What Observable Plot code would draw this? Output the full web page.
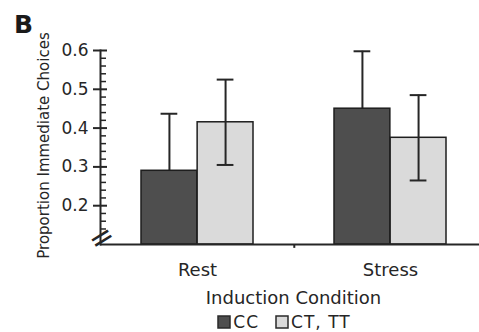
<!DOCTYPE html>
<html><head><meta charset="utf-8">
<script src="https://cdn.jsdelivr.net/npm/d3@7"></script>
<script src="https://cdn.jsdelivr.net/npm/@observablehq/plot@0.6"></script>
<style>
body{margin:0;background:#fff;font-family:"DejaVu Sans",sans-serif;}
#wrap{position:relative;width:479px;height:332px;overflow:hidden;background:#fff;}
#panel{position:absolute;left:14px;top:12px;font:bold 25px/1 "DejaVu Sans",sans-serif;color:#1a1a1a;}
#chart{position:absolute;left:0;top:0;}
#legend{position:absolute;left:100px;top:314px;width:386px;display:flex;justify-content:center;letter-spacing:1px;line-height:16px;}
#legend div{min-height:0 !important;margin:0 !important;line-height:16px !important;}
#legend svg{margin-right:3px !important;}
#legend svg rect{stroke:#2a2a2a;stroke-width:1.5px;}
</style></head><body>
<div id="wrap"><div id="chart"></div><div id="panel">B</div><div id="legend"></div></div>
<script>
// ---- data ----
const conditions = ["Rest", "Stress"];
const genotypes = ["CC", "CT, TT"];
const ccMean = [0.29, 0.45];
const ccErr = [0.147, 0.148];
const ctMean = [0.415, 0.375];
const ctErr = [0.11, 0.11];
const yMajorTicks = [0.2, 0.3, 0.4, 0.5, 0.6];
const yMinorTicks = [0.14, 0.16, 0.18, 0.22, 0.24, 0.26, 0.28, 0.32, 0.34, 0.36, 0.38,
                     0.42, 0.44, 0.46, 0.48, 0.52, 0.54, 0.56, 0.58];
const yDomain = [0.1, 0.6];
const breakAt = [0.117];
const yLabel = "Proportion Immediate Choices";
const xLabel = "Induction Condition";
const colors = ["#4e4e4e", "#dadada"];

// ---- tables ----
const cc = conditions.map((c, i) => ({condition: c, mean: ccMean[i], lo: ccMean[i] - ccErr[i], hi: ccMean[i] + ccErr[i]}));
const ct = conditions.map((c, i) => ({condition: c, mean: ctMean[i], lo: ctMean[i] - ctErr[i], hi: ctMean[i] + ctErr[i]}));

// ---- layout ----
const W = 479, H = 310, mL = 100, mR = -7, mT = 50, mB = 66;
const pIn = 0.42, pOut = 0.207;
const step = (W - mL - mR) / (conditions.length - pIn + 2 * pOut);
const bw = step * (1 - pIn);
const half = bw / 2, q = bw / 4, cap = 8.5;
const ink = "#262626";
const font = "DejaVu Sans, sans-serif";

const chart = Plot.plot({
  width: W, height: H,
  marginLeft: mL, marginRight: mR, marginTop: mT, marginBottom: mB,
  style: {fontFamily: font, background: "transparent", color: ink},
  x: {domain: conditions, paddingInner: pIn, paddingOuter: pOut, axis: null},
  y: {domain: yDomain, axis: null},
  marks: [
    // CC error bars (lower half hidden by the bar)
    Plot.ruleX(cc, {x: "condition", y1: "lo", y2: "hi", dx: -q, stroke: ink, strokeWidth: 2}),
    Plot.tickY(cc, {x: "condition", y: "hi", insetLeft: q - cap, insetRight: 3 * q - cap, stroke: ink, strokeWidth: 2}),
    // bars
    Plot.barY(cc, {x: "condition", y1: yDomain[0], y2: "mean", insetRight: half, fill: colors[0], stroke: "#1e1e1e", strokeWidth: 1.5}),
    Plot.barY(ct, {x: "condition", y1: yDomain[0], y2: "mean", insetLeft: half, fill: colors[1], stroke: "#1e1e1e", strokeWidth: 1.5}),
    // CT error bars
    Plot.ruleX(ct, {x: "condition", y1: "lo", y2: "hi", dx: q, stroke: ink, strokeWidth: 2}),
    Plot.tickY(ct, {x: "condition", y: "hi", insetLeft: 3 * q - cap, insetRight: q - cap, stroke: ink, strokeWidth: 2}),
    Plot.tickY(ct, {x: "condition", y: "lo", insetLeft: 3 * q - cap, insetRight: q - cap, stroke: ink, strokeWidth: 2}),
    // axes lines
    Plot.ruleY([yDomain[0]], {stroke: ink, strokeWidth: 2}),
    Plot.frame({anchor: "left", stroke: ink, strokeWidth: 2}),
    // small tick between the two condition groups
    Plot.ruleX([conditions[0]], {x: d => d, dx: step / 2, y1: yDomain[0], y2: 0.09, stroke: ink, strokeWidth: 2}),
    // y ticks
    Plot.axisY(yMajorTicks, {tickSize: 7, tickPadding: 5, tickFormat: ".1f", fontSize: 17, fill: ink, stroke: ink, strokeWidth: 2, label: null}),
    Plot.axisY(yMajorTicks, {tickSize: 7, dx: 7, fill: "none", stroke: ink, strokeWidth: 2, label: null}),
    Plot.axisY(yMinorTicks, {tickSize: 6, dx: 6, fill: "none", stroke: ink, strokeWidth: 1.5, label: null}),
    // axis break
    Plot.text(breakAt, {y: d => d, text: () => "=", frameAnchor: "left", textAnchor: "middle", lineAnchor: "middle", dx: 1, rotate: -32, fontSize: 30, fill: ink}),
    // x tick labels
    Plot.axisX({tickSize: 0, tickPadding: 19, fontSize: 18, fill: ink, label: null}),
    // axis titles
    Plot.text([yLabel], {text: d => d, frameAnchor: "left", textAnchor: "middle", lineAnchor: "middle", rotate: -90, dx: -56, dy: -2, fontSize: 15, fill: ink}),
    Plot.text([xLabel], {text: d => d, frameAnchor: "bottom", textAnchor: "middle", lineAnchor: "middle", dy: 54, fontSize: 18, fill: ink})
  ]
});
document.getElementById("chart").append(chart);

const legend = Plot.legend({
  color: {type: "ordinal", domain: genotypes, range: colors},
  swatchSize: 12,
  style: {fontFamily: font, fontSize: "17px", color: ink}
});
document.getElementById("legend").append(legend);
</script>
</body></html>
